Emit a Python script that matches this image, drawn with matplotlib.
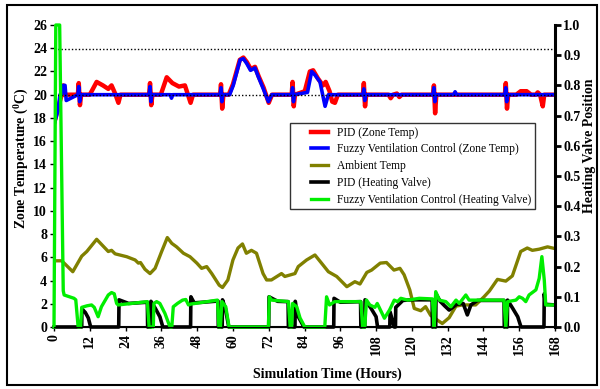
import matplotlib
matplotlib.use("Agg")
from matplotlib import pyplot as plt
from matplotlib.patches import Rectangle
from matplotlib.legend_handler import HandlerLine2D

plt.rcParams['font.family'] = ['Liberation Serif', 'DejaVu Serif']
plt.rcParams['mathtext.fontset'] = 'custom'
plt.rcParams['mathtext.rm'] = 'Liberation Serif:bold'

# ambient temperature (left axis, degC)
amb_t = [0, 2.6, 6.3, 9.3, 11, 14.3, 18.2, 19.3, 20.5, 24.4, 27.2, 28.3, 29, 30.5, 32.2, 33.9,
         36.1, 38, 39.5, 41.1, 43.4, 45.6, 47.9, 49.5, 51.2, 52.9, 55.4, 56.5, 58.3, 60, 61.7,
         63.2, 64.5, 66.2, 67.9, 70.1, 71.3, 72.9, 76.3, 77.4, 80.8, 81.9, 84.7, 87.5, 89.7, 92,
         94.8, 98.2, 100.9, 102.6, 104.9, 106.5, 109.4, 111.5, 114, 116, 117.4, 119.3, 120.8,
         123, 124.6, 126.3, 130.2, 132.5, 134.8, 137, 141.4, 144.2, 146, 148.7, 151.5, 153.7,
         156.5, 158.7, 160.4, 162.7, 165.5, 168]
amb_v = [5.7, 5.7, 4.76, 6.1, 6.5, 7.55, 6.5, 6.6, 6.3, 6.05, 5.77, 5.5, 5.55, 4.97, 4.6, 5.05,
         6.5, 7.7, 7.2, 6.9, 6.35, 6.05, 5.5, 5.05, 5.2, 4.6, 3.6, 3.4, 4.05, 5.77, 6.8,
         7.15, 6.35, 6.6, 6.35, 4.6, 4.05, 4.05, 4.6, 4.35, 4.6, 5.2, 5.77, 6.2, 5.5, 4.76,
         4.35, 3.47, 3.9, 3.7, 4.7, 4.9, 5.5, 5.55, 4.9, 5.05, 4.5, 3.2, 1.6,
         1.4, 1.75, 1.0, 0.3, 0.8, 1.8, 1.9, 1.9, 2.6, 3.1, 4.1, 3.95, 4.4,
         6.5, 6.8, 6.6, 6.7, 6.9, 6.75]

# PID zone temperature (left axis)
pid_zone_t = [0, 1.5, 2.6, 3.1, 3.6, 8.0, 8.3, 8.7, 9.1, 12.0, 14.3, 16.4, 18.2, 19.3, 20.5,
              21.6, 22.3, 31.9, 32.2, 32.6, 33.0, 35.8, 37.8, 39.7, 41.9, 43.9, 45.8, 46.6,
              55.7, 56.0, 56.4, 56.8, 58.6, 60.0, 62.3, 63.5, 64.7, 66.0, 67.4, 68.6, 70.3,
              72.0, 73.1, 79.7, 80.0, 80.4, 80.8, 84.1, 85.8, 86.9, 88.5, 90.2, 91.1, 92.4,
              93.3, 94.2, 95.2, 103.6, 103.9, 104.3, 104.7, 112.2, 112.9, 113.7, 115.0, 115.8,
              116.6, 127.1, 127.4, 127.8, 128.2, 151.2, 151.5, 151.9, 152.3, 155.0, 156.5,
              158.5, 160.0, 161.6, 162.2, 163.0, 163.9, 164.4, 164.9, 168]
pid_zone_v = [17.5, 19.0, 20.0, 20.8, 20.0, 20.0, 21.0, 19.1, 20.0, 20.0, 21.1, 20.8, 20.5,
              20.8, 20.1, 19.3, 20.0, 20.0, 21.0, 19.1, 20.0, 20.0, 21.5, 21.0, 20.7, 20.8,
              19.3, 20.0, 20.0, 20.9, 18.8, 20.0, 20.0, 20.9, 23.0, 23.2, 22.8, 22.2, 22.4,
              21.6, 20.6, 19.3, 20.0, 20.0, 21.1, 19.0, 20.0, 20.3, 22.0, 22.1, 21.4, 20.8,
              21.1, 20.3, 19.4, 19.3, 20.0, 20.0, 21.0, 19.0, 20.0, 20.0, 19.7, 20.0, 20.1,
              19.8, 20.0, 20.0, 20.8, 18.4, 20.0, 20.0, 21.0, 18.8, 20.0, 20.0, 20.3, 20.3,
              20.0, 20.0, 20.2, 20.0, 19.0, 20.0, 20.0, 20.0]

# fuzzy ventilation control zone temperature (left axis)
fz_zone_t = [0, 1.4, 2.0, 2.6, 3.1, 3.7, 4.1, 8.0, 8.3, 8.6, 8.9, 31.9, 32.2, 32.5, 32.8, 39.0,
             39.4, 39.8, 55.7, 56.0, 56.3, 56.6, 58.9, 60.1, 62.4, 63.5, 64.6, 65.9, 67.4,
             68.5, 70.2, 71.9, 73.0, 79.7, 80.0, 80.3, 80.6, 85.0, 86.4, 87.5, 89.2, 90.9,
             92.0, 103.6, 103.9, 104.2, 104.5, 127.1, 127.4, 127.7, 128.0, 134.0, 134.5,
             135.0, 151.2, 151.5, 151.8, 152.1, 168]
fz_zone_v = [17.4, 18.7, 20.0, 20.0, 20.8, 20.8, 19.5, 20.0, 20.7, 19.4, 20.0, 20.0, 20.7,
             19.4, 20.0, 20.0, 19.7, 20.0, 20.0, 20.6, 19.4, 20.0, 20.0, 20.8, 23.0, 23.1,
             22.7, 22.1, 22.3, 21.55, 20.5, 19.4, 20.0, 20.0, 20.6, 19.4, 20.0, 20.2, 22.0,
             21.7, 21.1, 19.0, 20.0, 20.0, 20.5, 19.5, 20.0, 20.0, 20.6, 19.4, 20.0, 20.0,
             20.25, 20.0, 20.0, 20.6, 19.4, 20.0, 20.0]

# PID heating valve position (right axis)
pid_valve_t = [0, 9.3, 9.35, 10.5, 11.5, 12.3, 21.7, 21.8, 25, 31.3, 31.4, 32.4, 32.5, 33.9,
               35.5, 36.5, 45.8, 45.9, 47, 50, 55, 55.1, 56.4, 56.5, 57.5, 58.6, 72.0, 72.1,
               75, 78.5, 78.6, 80.8, 80.9, 81.6, 83.8, 93.8, 93.9, 96, 100, 102.8, 102.9,
               104.2, 104.3, 106.3, 108.0, 108.5, 112.6, 112.7, 114.1, 114.5, 114.6, 117, 120,
               126.8, 126.9, 128.0, 128.1, 129.5, 131, 132.5, 135, 137.2, 138.6, 139.8, 142,
               150.9, 151.0, 152.0, 152.1, 153.8, 155.5, 156.6, 164.3, 164.4, 164.8, 168]
pid_valve_v = [0, 0, 0.06, 0.048, 0.03, 0, 0, 0.09, 0.078, 0.082, 0, 0, 0.085, 0.063,
               0.034, 0, 0, 0.1, 0.08, 0.082, 0.086, 0, 0, 0.09, 0.06, 0, 0, 0.1,
               0.085, 0.084, 0, 0, 0.085, 0.04, 0, 0, 0.095, 0.082, 0.083, 0.084, 0,
               0, 0.09, 0.062, 0.034, 0, 0, 0.05, 0, 0, 0.065, 0.088, 0.09,
               0.09, 0, 0, 0.11, 0.085, 0.07, 0.056, 0.075, 0.078, 0.04, 0.073, 0.088,
               0.088, 0, 0, 0.089, 0.062, 0.034, 0, 0, 0.11, 0.075, 0.073]

# fuzzy ventilation control heating valve position (right axis)
fz_valve_t = [0, 0.6, 1.9, 3.1, 3.4, 6.7, 7.3, 8.1, 8.9, 9.3, 11, 12.6, 13.5, 14.8, 15.9,
              18.2, 19.3, 20.2, 21.0, 21.5, 31.3, 31.9, 33.3, 33.5, 34.4, 35.5, 37.2, 38.9,
              39.5, 40.0, 41.4, 43.1, 44.2, 45.1, 45.9, 54.8, 55.3, 55.8, 56.3, 57.6, 58.7,
              71.9, 72.2, 73.0, 78.6, 79.2, 79.7, 80.0, 81.4, 82.5, 84.1, 90.8, 91.4, 92.4,
              94.1, 102.9, 103.5, 104.2, 104.8, 105.9, 107.6, 108.4, 110.8, 112.5, 114.1,
              115.2, 116.3, 118.6, 122.5, 126.9, 127.5, 128.0, 129.2, 131.4, 133.1, 134.8,
              135.9, 138.1, 139.2, 141.4, 150.9, 151.5, 152.1, 154.9, 156.0, 157.1, 158.2,
              159.3, 161.6, 162.7, 163.6, 164.4, 164.9, 168]
fz_valve_v = [0, 1.0, 1.0, 0.12, 0.106, 0.095, 0.09, 0, 0, 0.065, 0.07, 0.073, 0.065, 0.034,
              0.067, 0.106, 0.114, 0.11, 0.078, 0.073, 0.084, 0, 0, 0.078, 0.084, 0.078,
              0.045, 0, 0, 0.067, 0.078, 0.089, 0.091, 0.073, 0.076, 0.089, 0, 0, 0.084,
              0.067, 0, 0, 0.1, 0.089, 0.084, 0, 0, 0.078, 0.067, 0.03, 0, 0, 0.1, 0.073,
              0.084, 0.084, 0, 0, 0.089, 0.073, 0.065, 0.078, 0.029, 0.056, 0.089,
              0.084, 0.095, 0.089, 0.095, 0.093, 0, 0.117, 0.089, 0.084, 0.067, 0.089,
              0.078, 0.106, 0.089, 0.089, 0.089, 0, 0.084, 0.089, 0.1, 0.095, 0.084,
              0.106, 0.123, 0.161, 0.233, 0.156, 0.073, 0.073]

temp_ticks = list(range(0, 27, 2))
valve_ticks = [i / 10 for i in range(11)]
hour_ticks = list(range(0, 169, 12))


class ShortLine(HandlerLine2D):
    # legend line drawn only over the right part of the handle box
    def get_xdata(self, legend, xdescent, ydescent, width, height, fontsize):
        x0 = -xdescent + 0.5 * width
        x1 = -xdescent + width
        return [x0, x1], [x0, x1]


fig = plt.figure(figsize=(6, 3.89), dpi=100)
ax = fig.add_axes([0.09, 0.1594, 0.835, 0.7763])
ax2 = ax.twinx()

ax.plot(amb_t, amb_v, color='#808000', lw=2.4, label='Ambient Temp', zorder=2)
ax.plot(pid_zone_t, pid_zone_v, color='red', lw=3.2, label='PID (Zone Temp)', zorder=3)
ax.plot(fz_zone_t, fz_zone_v, color='blue', lw=2.6,
        label='Fuzzy Ventilation Control (Zone Temp)', zorder=4)
ax.axhline(20, color='black', lw=1, ls=(0, (1, 1.5)), zorder=5)
ax.axhline(23.9, color='black', lw=1, ls=(0, (1, 1.5)), zorder=5)

ax2.plot(pid_valve_t, pid_valve_v, color='black', lw=2.6, label='PID (Heating Valve)',
         clip_on=False)
ax2.plot(fz_valve_t, fz_valve_v, color='#00ee00', lw=2.4,
         label='Fuzzy Ventilation Control (Heating Valve)', clip_on=False)

ax.set_xlim(0, 168)
ax.set_ylim(0, 26)
ax2.set_ylim(0, 1.0)
ax.set_xticks(hour_ticks)
ax.set_xticklabels([str(h) for h in hour_ticks], rotation=90)
ax.set_yticks(temp_ticks)
ax2.set_yticks(valve_ticks)
ax2.set_yticklabels(['%.1f' % v for v in valve_ticks])

for a in (ax, ax2):
    a.spines['top'].set_visible(False)
    a.spines['left'].set_visible(False)
    a.spines['right'].set_visible(False)
ax2.spines['right'].set_visible(True)
ax2.spines['right'].set_linewidth(2.2)
ax.spines['bottom'].set_linewidth(1.5)

ax.tick_params(axis='both', labelsize=10, length=3, width=1, pad=2)
ax2.tick_params(axis='y', labelsize=10, length=4, width=2, pad=2)
for lab in ax.get_xticklabels() + ax.get_yticklabels() + ax2.get_yticklabels():
    lab.set_fontweight('bold')

ax.set_xlabel('Simulation Time (Hours)', fontsize=10, fontweight='bold')
ax.xaxis.set_label_coords(0.545, -0.135)
ax.set_ylabel(r'Zone Temperature ($\mathrm{^{0}}$C)', fontsize=10, fontweight='bold')
ax.yaxis.set_label_coords(-0.046, 0.56)
ax2.set_ylabel('Heating Valve Position', fontsize=10, fontweight='bold', rotation=90)
ax2.yaxis.set_label_coords(1.056, 0.60)

h1, l1 = ax.get_legend_handles_labels()
h2, l2 = ax2.get_legend_handles_labels()
order = [1, 2, 0]
handles = [h1[i] for i in order] + h2
labels = [l1[i] for i in order] + l2
leg = ax2.legend(handles, labels, loc='upper left', bbox_to_anchor=(0.471, 0.675),
                 fontsize=8.3, frameon=True, fancybox=False, handlelength=3.0,
                 labelspacing=0.42, borderpad=0.3, borderaxespad=0, handletextpad=0.8,
                 handler_map={h: ShortLine() for h in handles})
leg.get_frame().set_edgecolor('black')
leg.get_frame().set_linewidth(1)

fig.patches.append(Rectangle((0.012, 0.01), 0.983, 0.977, transform=fig.transFigure,
                             fill=False, edgecolor='black', lw=1.5))

fig.savefig('out.png', dpi=100)
